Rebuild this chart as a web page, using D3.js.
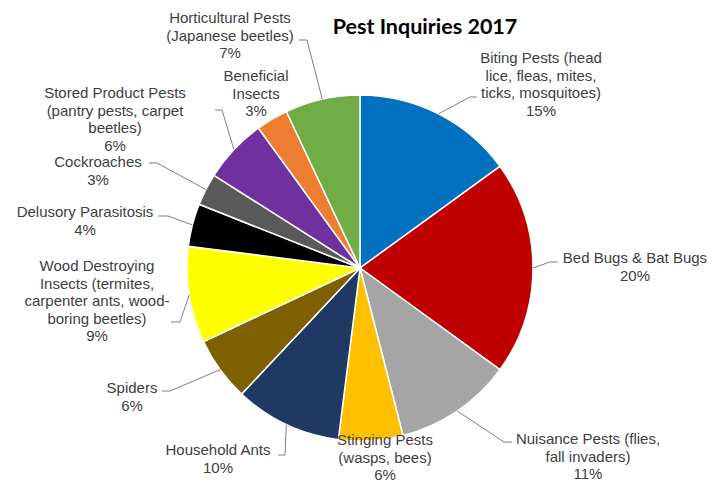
<!DOCTYPE html>
<html>
<head>
<meta charset="utf-8">
<script src="https://cdn.jsdelivr.net/npm/d3@7"></script>
<style>
  html, body { margin: 0; padding: 0; background: #fff; }
  svg { display: block; }
</style>
</head>
<body>
<svg id="chart" width="723" height="483"></svg>
<script>
// ---- data ----
const categories = [
  "Biting Pests (head lice, fleas, mites, ticks, mosquitoes)",
  "Bed Bugs & Bat Bugs",
  "Nuisance Pests (flies, fall invaders)",
  "Stinging Pests (wasps, bees)",
  "Household Ants",
  "Spiders",
  "Wood Destroying Insects (termites, carpenter ants, wood-boring beetles)",
  "Delusory Parasitosis",
  "Cockroaches",
  "Stored Product Pests (pantry pests, carpet beetles)",
  "Beneficial Insects",
  "Horticultural Pests (Japanese beetles)"
];
const values = [15, 20, 11, 6, 10, 6, 9, 4, 3, 6, 3, 7];
const labelLines = [
  ["Biting Pests (head", "lice, fleas, mites,", "ticks, mosquitoes)"],
  ["Bed Bugs & Bat Bugs"],
  ["Nuisance Pests (flies,", "fall invaders)"],
  ["Stinging Pests", "(wasps, bees)"],
  ["Household Ants"],
  ["Spiders"],
  ["Wood Destroying", "Insects (termites,", "carpenter ants, wood-", "boring beetles)"],
  ["Delusory Parasitosis"],
  ["Cockroaches"],
  ["Stored Product Pests", "(pantry pests, carpet", "beetles)"],
  ["Beneficial", "Insects"],
  ["Horticultural Pests", "(Japanese beetles)"]
];
const title = "Pest Inquiries 2017";

// ---- styles / layout (not data) ----
const colors = ["#0070C0", "#C00000", "#A5A5A5", "#FFC000", "#1F3864", "#7F6000",
                "#FFFF00", "#000000", "#595959", "#7030A0", "#ED7D31", "#70AD47"];
// label text block: center x, first baseline y; leader: elbow and end points (null = none)
const labelLayout = [
  {x: 541, y: 63,  elbow: [470, 97],  end: [477, 97]},
  {x: 635, y: 263, elbow: [550, 262], end: [558, 262]},
  {x: 588, y: 444, elbow: [504, 442], end: [512, 442]},
  {x: 385, y: 445, elbow: null, end: null},
  {x: 218, y: 455, elbow: [285, 455], end: [278, 455]},
  {x: 132, y: 393, elbow: [170, 391], end: [162, 391]},
  {x: 97,  y: 271, elbow: [180, 322], end: [171, 322]},
  {x: 85,  y: 217, elbow: [168, 216], end: [158, 216]},
  {x: 98,  y: 167, elbow: [157, 163], end: [149, 163]},
  {x: 115, y: 98,  elbow: [222, 110], end: [215, 110]},
  {x: 256, y: 81,  elbow: null, end: null},
  {x: 230, y: 23,  elbow: [307, 40],  end: [299, 40]}
];

const svg = d3.select("#chart");
const cx = 360, cy = 268, r = 173;
const lineH = 17.5;

svg.append("text")
  .attr("x", 425).attr("y", 34)
  .attr("text-anchor", "middle")
  .attr("font-family", "Lato, 'Open Sans', sans-serif")
  .attr("font-weight", "bold")
  .attr("font-size", 21.5)
  .attr("fill", "#000")
  .text(title);

const pie = d3.pie().sort(null).value(d => d).startAngle(0).endAngle(2 * Math.PI);
const arcs = pie(values);
const arc = d3.arc().innerRadius(0).outerRadius(r);
const edge = d3.arc().innerRadius(r).outerRadius(r);

const g = svg.append("g").attr("transform", `translate(${cx},${cy})`);
g.selectAll("path.slice")
  .data(arcs)
  .join("path")
  .attr("class", "slice")
  .attr("d", arc)
  .attr("fill", (d, i) => colors[i])
  .attr("stroke", "#fff")
  .attr("stroke-width", 1.5);

// leader lines
const total = d3.sum(values);
arcs.forEach((d, i) => {
  const L = labelLayout[i];
  if (L.elbow) {
    const c = edge.centroid(d);
    const pts = [[c[0] + cx, c[1] + cy], L.elbow, L.end];
    svg.append("path")
      .attr("d", d3.line()(pts))
      .attr("fill", "none")
      .attr("stroke", "#7F7F7F")
      .attr("stroke-width", 1);
  }
});

// labels
arcs.forEach((d, i) => {
  const L = labelLayout[i];
  const lines = labelLines[i].concat([d3.format(".0%")(values[i] / total)]);
  const t = svg.append("text")
    .attr("text-anchor", "middle")
    .attr("font-family", "'Liberation Sans', Arial, sans-serif")
    .attr("font-size", 15)
    .attr("fill", "#404040");
  lines.forEach((ln, k) => {
    t.append("tspan").attr("x", L.x).attr("y", L.y + k * lineH).text(ln);
  });
});
</script>
</body>
</html>
